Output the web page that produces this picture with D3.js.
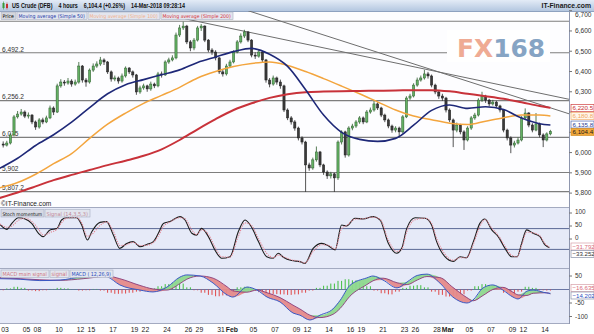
<!DOCTYPE html>
<html><head><meta charset="utf-8">
<script src="https://cdn.jsdelivr.net/npm/d3@7"></script>
<style>
html,body{margin:0;padding:0;background:#fff;overflow:hidden}
svg{display:block;font-family:"Liberation Sans",Arial,sans-serif}
</style></head><body>
<svg id="c" width="594" height="334"></svg>
<script>
// ---------------- DATA ----------------
const startBar = 2; // index of first 4-hour bar
const opens = [6042,6037,6047,6087,6176,6190,6200,6180,6185,6151,
6126,6161,6151,6171,6220,6200,6329,6348,6343,6353,
6338,6348,6427,6358,6348,6407,6427,6437,6457,6447,
6398,6363,6368,6353,6378,6417,6398,6383,6299,6319,
6329,6314,6338,6329,6388,6383,6447,6457,6467,6580,
6615,6624,6546,6516,6555,6615,6624,6555,6506,6496,
6467,6398,6388,6427,6447,6496,6546,6575,6595,6555,
6481,6476,6496,6457,6358,6338,6368,6348,6329,6210,
6171,6151,6121,6072,6052,5939,5924,5964,6003,5939,
5904,5885,5895,5875,6052,6102,5988,6121,6131,6151,
6171,6151,6200,6210,6240,6220,6185,6161,6131,6111,
6121,6102,6176,6269,6279,6333,6358,6368,6388,6378,
6333,6299,6279,6269,6210,6161,6111,6136,6102,6062,
6121,6171,6185,6259,6279,6259,6240,6249,6230,6210,
6111,6072,6037,6047,6062,6171,6195,6136,6111,6141,
6087,6062,6092];
const highs = [6055,6058,6095,6185,6205,6215,6208,6198,6190,6158,
6170,6172,6182,6232,6228,6340,6362,6358,6368,6362,
6360,6447,6432,6368,6415,6440,6450,6472,6465,6452,
6405,6380,6375,6390,6425,6422,6405,6388,6330,6340,
6335,6350,6345,6398,6400,6455,6468,6480,6592,6630,
6646,6630,6555,6565,6625,6634,6628,6560,6515,6505,
6472,6410,6438,6458,6505,6555,6588,6606,6600,6560,
6495,6508,6502,6462,6368,6380,6375,6360,6335,6218,
6180,6160,6128,6080,6058,5950,5975,6030,6008,5945,
5912,5905,5900,6060,6110,6108,6130,6142,6160,6180,
6178,6210,6222,6258,6248,6226,6192,6168,6138,6130,
6128,6185,6278,6290,6342,6370,6380,6408,6398,6385,
6340,6305,6290,6275,6218,6168,6148,6142,6110,6130,
6180,6196,6268,6300,6285,6265,6260,6255,6236,6215,
6118,6080,6058,6075,6180,6218,6200,6145,6195,6148,
6095,6100,6112];
const lows = [6025,6030,6040,6080,6168,6182,6170,6168,6140,6112,
6118,6140,6145,6165,6185,6195,6320,6330,6335,6325,
6330,6340,6345,6325,6340,6398,6418,6428,6432,6388,
6350,6352,6340,6345,6370,6388,6370,6285,6290,6310,
6300,6305,6318,6322,6370,6378,6438,6450,6460,6570,
6605,6535,6500,6505,6548,6600,6545,6495,6482,6455,
6388,6375,6380,6418,6440,6490,6538,6565,6545,6470,
6462,6468,6445,6345,6322,6330,6335,6315,6200,6160,
6138,6108,6060,6040,5806,5910,5915,5955,5928,5890,
5870,5872,5806,5865,6040,5975,5980,6110,6122,6142,
6140,6145,6192,6202,6210,6175,6150,6120,6098,6100,
6075,6095,6170,6260,6272,6325,6350,6360,6365,6322,
6288,6265,6255,6198,6150,6027,6100,6090,6013,6055,
6112,6162,6178,6250,6245,6228,6232,6220,6198,6100,
6060,5997,6025,6040,6055,6160,6125,6100,6105,6075,
6027,6055,6085];
const closes = [6037,6047,6087,6176,6190,6200,6180,6185,6151,6126,
6161,6151,6171,6220,6200,6329,6348,6343,6353,6338,
6348,6427,6358,6348,6407,6427,6437,6457,6447,6398,
6363,6368,6353,6378,6417,6398,6383,6299,6319,6329,
6314,6338,6329,6388,6383,6447,6457,6467,6580,6615,
6624,6546,6516,6555,6615,6624,6555,6506,6496,6467,
6398,6388,6427,6447,6496,6546,6575,6595,6555,6481,
6476,6496,6457,6358,6338,6368,6348,6329,6210,6171,
6151,6121,6072,6052,5939,5924,5964,6003,5939,5904,
5885,5895,5875,6052,6102,5988,6121,6131,6151,6171,
6151,6200,6210,6240,6220,6185,6161,6131,6111,6121,
6102,6176,6269,6279,6333,6358,6368,6388,6378,6333,
6299,6279,6269,6210,6161,6111,6136,6102,6062,6121,
6171,6185,6259,6279,6259,6240,6249,6230,6210,6111,
6072,6037,6047,6062,6171,6195,6136,6111,6141,6087,
6062,6092,6104.4];

// moving averages sampled at bar indices
const maBars = [1,6,11,16,21,26,31,36,41,46,51,56,61,66,71,76,81,86,91,96,101,106,111,116,121,126,131,136,141,146,151,154];
const ma50  = [5922,5972,6035,6088,6150,6222,6290,6335,6360,6384,6408,6445,6472,6498,6514,6485,6425,6310,6185,6100,6065,6055,6070,6135,6208,6235,6218,6226,6212,6170,6142,6135.8];
const ma100 = [5826,5852,5893,5945,5995,6070,6140,6195,6243,6282,6322,6368,6400,6425,6440,6447,6430,6400,6365,6328,6290,6250,6210,6180,6162,6145,6138,6155,6172,6185,6185,6180.8];
const ma200 = [5776,5803,5833,5864,5890,5914,5938,5960,5984,6016,6062,6115,6165,6210,6243,6270,6288,6298,6301,6303,6304,6305,6306,6308,6308,6302,6290,6278,6265,6248,6230,6220.5];

// horizontal levels and trend lines
const levels = [6648, 6492.2, 6256.2, 6075, 5902, 5807.2];
const levelLabels = ["", "6,492.2", "6,256.2", "6,075", "5,902", "5,807.2"];
const trendBar0 = [66, 52.5], trendVal0 = [6723, 6660];
const trendBar1 = [159.4, 159.4], trendVal1 = [6190, 6262];

const priceTicks = [6700,6600,6500,6400,6300,6200,6100,6000,5900,5800];

// stochastic momentum
const stochBars = [1.1,3,4.4,6.2,8.1,9.9,11.8,13.1,15,16.9,18.2,19.6,22.4,23.8,25.4,26.6,28.9,30.7,32.6,34.4,36.3,38.1,40,41.9,43.7,45.1,46.5,48.3,51.1,52.5,54.4,55.7,57.1,59,60.8,62.7,65,67.3,69.2,71,72.9,75.2,77,78.4,79.8,82.1,84.4,85.8,88.1,90.5,92.3,94.2,96,97.4,99.7,102,104.8,106.7,109,111.3,112.7,114.1,116.4,119.2,121,122.4,124.7,127,128.9,130.7,132.6,134.4,135.8,137.7,139.5,141.4,143.2,144.8,146,147.4,149.2,151.1,152.5,153.7];
const stochK = [56,37,60,82,77,60,22,9,35,40,73,82,82,54,-4,28,64,67,15,-36,-17,-10,-30,-21,-10,22,60,67,86,73,22,15,41,9,-42,-74,-68,28,73,45,-10,-68,-74,-55,-70,-83,-87,-94,-36,-17,-26,-42,54,50,80,77,86,73,-17,-55,-36,41,82,80,54,-10,-68,-86,-68,-72,-10,60,77,35,9,-36,-68,-68,-17,35,22,9,-23,-33.252];
const stochD = [58,45,50,72,80,68,38,15,25,38,62,80,83,62,10,18,52,66,30,-25,-22,-13,-25,-24,-14,12,48,65,82,78,35,17,35,18,-30,-68,-70,10,62,52,2,-55,-72,-62,-68,-80,-86,-92,-48,-22,-24,-38,40,52,76,78,84,76,-5,-48,-40,28,74,80,60,2,-58,-82,-72,-72,-20,48,74,42,14,-28,-62,-68,-25,26,24,12,-18,-31.792];
const stochLevels = [40, -40];
const stochTicks = [100, 50, 0];

// MACD
const macdBars = [1.1,6.7,12.2,17.8,24.2,28.9,30.8,34.4,40,43.6,47.5,51.1,53,56.7,60.3,64.2,65.8,69.7,72.5,75.3,78.9,82.5,84.4,87.2,90,93.6,95.6,98.3,103,104.7,107.5,111.4,114.2,117,119.7,123.3,126.9,130.8,132.5,135.3,138,140.8,143.6,145,147.5,149.2,153,154];
const macdMain = [40,38,33,35,48,52,48,17,-2,-9,9,46,54,50,24,-20,-28,9,-2,-28,-46,-87,-95,-113,-95,-72,-40,15,43,50,35,6,28,52,57,24,-28,-50,-39,6,17,-2,-28,-35,-6,-2,-13,-14.202];
const macdSignal = [44,40,36,34,40,47,50,40,15,2,-2,22,38,50,42,10,-5,-10,-2,-12,-30,-58,-72,-95,-104,-92,-70,-25,18,32,42,25,18,35,48,44,8,-30,-42,-22,0,8,-10,-20,-22,-14,-12,-16.635];
// histogram, one value per pair of bars (bars 1-2, 3-4, ...)
const macdHist = [-3,4,10,6,-4,-6,-3,2,6,4,1,-4,-3,2,-4,-12,-16,-15,-12,-8,-2,4,12,20,25,22,8,-3,-12,-20,-25,-22,-8,8,10,-4,-10,-14,-17,-18,-20,-18,-12,-4,6,14,22,32,38,34,24,12,-4,-14,-18,-8,6,14,16,8,-8,-20,-26,-26,-18,-4,12,20,16,2,-12,-20,-8,10,6,-3,-4];
const macdTicks = [50, -50, -100];

// time axis: trading-day index and label
const dayIdx = [1,3,4,6,8,9,11,13,14,16,18,19,21,22,24,26,28,29,31,33,34,36,38,39,41,42,44,46,48,49,51];
const dayLabels = ["03","05","08","10","12","15","17","19","22","24","26","29","31","Feb","05","07","09","12","14","16","19","21","23","26","28","Mar","05","07","09","12","14"];

// ---------------- CHART ----------------
const svg = d3.select("#c");
const AX = 569;
const xs = d3.scaleLinear().domain([0,160]).range([-4,572]);
const yP = d3.scaleLinear().domain([5800,6700]).range([193.1,10.7]);
const yK = d3.scaleLinear().domain([-100,100]).range([265,213]);
const yM = d3.scaleLinear().domain([-100,50]).range([316.5,276]);
const barsPerDay = 3;

const defs = svg.append("defs");
const gr = defs.append("linearGradient").attr("id","tg").attr("x1",0).attr("x2",0).attr("y1",0).attr("y2",1);
gr.append("stop").attr("offset","0").attr("stop-color","#e3ebf6");
gr.append("stop").attr("offset","1").attr("stop-color","#b4c7e0");
function clip(id,x,y,w,h){defs.append("clipPath").attr("id",id).append("rect").attr("x",x).attr("y",y).attr("width",w).attr("height",h);}
clip("cm",0,11,AX,196); clip("cs",0,208,AX,60); clip("cd",0,269,AX,55);

// backgrounds
svg.append("rect").attr("width",594).attr("height",334).attr("fill","#ffffff");
svg.append("rect").attr("x",0).attr("y",0).attr("width",594).attr("height",11).attr("fill","url(#tg)");
svg.append("line").attr("x1",0).attr("x2",594).attr("y1",11.5).attr("y2",11.5).attr("stroke","#8ea2c0");
svg.append("rect").attr("x",0).attr("y",12).attr("width",AX).attr("height",195).attr("fill","#fdfdff");
svg.append("rect").attr("x",0).attr("y",208).attr("width",AX).attr("height",60).attr("fill","#e6eaf8");
svg.append("rect").attr("x",0).attr("y",269).attr("width",AX).attr("height",55).attr("fill","#e6eaf8");
[207.5,268.5,323.5].forEach(y=>svg.append("line").attr("x1",0).attr("x2",AX).attr("y1",y).attr("y2",y).attr("stroke","#a3aac0"));
svg.append("line").attr("x1",AX+0.5).attr("x2",AX+0.5).attr("y1",12).attr("y2",324).attr("stroke","#8e96ae");

// ---- main panel
const gm = svg.append("g").attr("clip-path","url(#cm)");
levels.forEach((v,i)=>{
  gm.append("line").attr("x1",0).attr("x2",AX).attr("y1",yP(v)).attr("y2",yP(v)).attr("stroke","#7e7e7e").attr("stroke-width",1.1);
  if(levelLabels[i]) gm.append("text").attr("x",2).attr("y",yP(v)-1.2).attr("font-size",6.6).attr("fill","#333").text(levelLabels[i]);
});
trendBar0.forEach((b,i)=>{
  gm.append("line").attr("x1",xs(b)).attr("y1",yP(trendVal0[i])).attr("x2",xs(trendBar1[i])).attr("y2",yP(trendVal1[i])).attr("stroke","#6e6e6e").attr("stroke-width",1);
});
// watermark
gm.append("rect").attr("x",447).attr("y",30).attr("width",103).attr("height",32).attr("fill","#ffffff");
const wm = gm.append("text").attr("x",457).attr("y",57).attr("font-size",25).attr("font-weight","bold").attr("font-family","'DejaVu Sans',Verdana,sans-serif").attr("textLength",88).attr("lengthAdjust","spacingAndGlyphs");
wm.append("tspan").attr("fill","#efab94").text("FX");
wm.append("tspan").attr("fill","#86a4c4").text("168");

// candles
const gc = gm.append("g");
closes.forEach((c,i)=>{
  const t=i+startBar, x=xs(t), o=opens[i], up=c>=o;
  gc.append("line").attr("x1",x).attr("x2",x).attr("y1",yP(highs[i])).attr("y2",yP(lows[i])).attr("stroke",up?"#2d5c2d":"#2a2a2a").attr("stroke-width",0.8);
  const y0=yP(Math.max(o,c)), h=Math.max(0.8,Math.abs(yP(o)-yP(c)));
  gc.append("rect").attr("x",x-1.1).attr("y",y0).attr("width",2.2).attr("height",h)
    .attr("fill",up?"#63b063":"#3a3a3a").attr("stroke",up?"#2d5c2d":"#1e1e1e").attr("stroke-width",0.5);
});
// moving averages
const maLine = arr => d3.line().curve(d3.curveMonotoneX).x((d,i)=>xs(maBars[i])).y(d=>yP(d))(arr);
gm.append("path").attr("d",maLine(ma100)).attr("fill","none").attr("stroke","#f3a53e").attr("stroke-width",1.5);
gm.append("path").attr("d",maLine(ma200)).attr("fill","none").attr("stroke","#c8323a").attr("stroke-width",2);
gm.append("path").attr("d",maLine(ma50)).attr("fill","none").attr("stroke","#1e2878").attr("stroke-width",1.6);

// legend: boxes of given widths; text is shrunk to fit its box
function legend(items, x0, y0, fs){
  let x=x0;
  items.forEach(it=>{
    const g=svg.append("g");
    const w=it.len+3;
    g.append("rect").attr("x",x).attr("y",y0).attr("height",7.5).attr("width",w).attr("fill",it.bg||"#e2e5ee").attr("stroke","#a9afc2").attr("stroke-width",0.6);
    const t=g.append("text").attr("x",x+1.5).attr("y",y0+6).attr("font-size",fs)
      .attr("font-family","'Liberation Sans Narrow','DejaVu Sans Condensed','Liberation Sans',Arial,sans-serif")
      .attr("fill",it.c).text(it.t);
    const nat=t.node().getComputedTextLength();
    if(nat>it.len-0.5) t.attr("font-size",fs*(it.len-0.5)/nat);
    x+=w+1;
  });
}
legend([{t:"Price",c:"#000",bg:"#d4d6dc",len:12},{t:"Moving average (Simple 50)",c:"#2338a8",len:67},{t:"Moving average (Simple 100)",c:"#f2b08a",len:69},{t:"Moving average (Simple 200)",c:"#d8323a",len:69}],1,12,6.8);

// title bar
svg.append("text").attr("x",12).attr("y",8.3).attr("font-size",7.4).attr("font-weight","bold").attr("fill","#111")
  .attr("textLength",173).attr("lengthAdjust","spacingAndGlyphs").attr("xml:space","preserve")
  .text("US Crude (DFB)    4 hours    6,104.4 (+0.26%)    14-Mar-2018 09:28:14");
svg.append("text").attr("x",591).attr("y",8.3).attr("text-anchor","end").attr("font-size",6.8).attr("font-weight","bold").attr("fill","#1a1a1a").text("IT-Finance.com");
svg.append("rect").attr("x",2.5).attr("y",3).attr("width",2).attr("height",5).attr("fill","#3a9a3a");
svg.append("line").attr("x1",3.5).attr("x2",3.5).attr("y1",1.5).attr("y2",9.5).attr("stroke","#3a9a3a").attr("stroke-width",0.6);
svg.append("rect").attr("x",6).attr("y",4).attr("width",2).attr("height",4).attr("fill","#c83030");
svg.append("line").attr("x1",7).attr("x2",7).attr("y1",2.5).attr("y2",9.5).attr("stroke","#c83030").attr("stroke-width",0.6);

// copyright
svg.append("text").attr("x",1).attr("y",205.5).attr("font-size",6.6).attr("fill","#222").text("\u00A9IT-Finance.com");

// value boxes on right
const f1=d3.format(",.1f"), f3=d3.format(".3f");
function valBox(y,txt,stroke,fill,col){
  svg.append("rect").attr("x",571).attr("y",y-3.5).attr("width",23).attr("height",7).attr("fill",fill).attr("stroke",stroke).attr("stroke-width",0.7);
  svg.append("text").attr("x",572.5).attr("y",y).attr("dy","0.35em").attr("font-size",6.2).attr("fill",col).text(txt);
}
const boxYs = [yP(ma200[ma200.length-1]), yP(ma100[ma100.length-1]), yP(ma50[ma50.length-1])-0.5, yP(closes[closes.length-1])+0.5];

// right price axis (labels hidden behind value boxes are not drawn)
priceTicks.forEach(v=>{
  const y=yP(v);
  svg.append("line").attr("x1",AX).attr("x2",AX+3).attr("y1",y).attr("y2",y).attr("stroke","#777");
  if(boxYs.some(b=>Math.abs(b-y)<6)) return;
  svg.append("text").attr("x",575).attr("y",Math.max(15,y)).attr("dy","0.35em").attr("font-size",6.6).attr("fill","#333").text(d3.format(",")(v));
});
valBox(boxYs[0],f1(ma200[ma200.length-1]),"#d04040","#ffffff","#c83030");
valBox(boxYs[1],f1(ma100[ma100.length-1]),"#f0b070","#fff6ec","#f0a860");
valBox(boxYs[2],f1(ma50[ma50.length-1]),"#5068b0","#ffffff","#2a3a90");
valBox(boxYs[3],f1(closes[closes.length-1]),"#d08a20","#f2a83a","#1a1a1a");

// ---- stochastic panel
const gs = svg.append("g").attr("clip-path","url(#cs)");
stochLevels.forEach(v=>gs.append("line").attr("x1",0).attr("x2",AX).attr("y1",yK(v)).attr("y2",yK(v)).attr("stroke","#5a6894").attr("stroke-width",1));
const stLine = arr => d3.line().curve(d3.curveMonotoneX).x((d,i)=>xs(stochBars[i])).y(d=>yK(d))(arr);
gs.append("path").attr("d",stLine(stochK)).attr("fill","none").attr("stroke","#1c1c1c").attr("stroke-width",1.1);
gs.append("path").attr("d",stLine(stochD)).attr("fill","none").attr("stroke","#e38391").attr("stroke-width",1.1).attr("stroke-dasharray","1.2,1.2");
legend([{t:"Stoch momentum",c:"#111",bg:"#d6d9e4",len:40},{t:"Signal (14,3,5,3)",c:"#c08898",len:42}],1,209.5,6.6);
stochTicks.forEach(v=>{
  svg.append("line").attr("x1",AX).attr("x2",AX+3).attr("y1",yK(v)).attr("y2",yK(v)).attr("stroke","#777");
  svg.append("text").attr("x",575).attr("y",yK(v)-1).attr("dy","0.35em").attr("font-size",6.4).attr("fill","#333").text(v);
});
function boxAt(y,txt,col,stroke){
  svg.append("rect").attr("x",571).attr("y",y-3.5).attr("width",23).attr("height",7).attr("fill","#ffffff").attr("stroke",stroke).attr("stroke-width",0.7);
  svg.append("text").attr("x",572.5).attr("y",y).attr("dy","0.35em").attr("font-size",6.1).attr("fill",col).text(txt);
}
boxAt(246.5,f3(stochD[stochD.length-1]),"#d86a7a","#d8a0a8");
boxAt(254,f3(stochK[stochK.length-1]),"#333","#8890a8");

// ---- MACD panel
const gd = svg.append("g").attr("clip-path","url(#cd)");
gd.append("line").attr("x1",0).attr("x2",AX).attr("y1",yM(0)).attr("y2",yM(0)).attr("stroke","#6a76a4").attr("stroke-width",1);
for(let t=1;t<=154;t++){
  const v=macdHist[Math.floor((t-1)/2)];
  gd.append("line").attr("x1",xs(t)).attr("x2",xs(t)).attr("y1",yM(0)).attr("y2",yM(v)).attr("stroke",v>=0?"#3fbf3f":"#e04848").attr("stroke-width",1);
}
const bandUp = d3.area().curve(d3.curveMonotoneX).x((d,i)=>xs(macdBars[i])).y0((d,i)=>yM(macdSignal[i])).y1((d,i)=>yM(Math.max(d,macdSignal[i])));
const bandDn = d3.area().curve(d3.curveMonotoneX).x((d,i)=>xs(macdBars[i])).y0((d,i)=>yM(macdSignal[i])).y1((d,i)=>yM(Math.min(d,macdSignal[i])));
gd.append("path").attr("d",bandUp(macdMain)).attr("fill","#8ed88e").attr("opacity",0.95);
gd.append("path").attr("d",bandDn(macdMain)).attr("fill","#e58a8a").attr("opacity",0.95);
const mdLine = arr => d3.line().curve(d3.curveMonotoneX).x((d,i)=>xs(macdBars[i])).y(d=>yM(d))(arr);
gd.append("path").attr("d",mdLine(macdSignal)).attr("fill","none").attr("stroke","#8a3a78").attr("stroke-width",0.9);
gd.append("path").attr("d",mdLine(macdMain)).attr("fill","none").attr("stroke","#3a58c4").attr("stroke-width",1);
legend([{t:"MACD main signal",c:"#d07a86",len:45},{t:"signal",c:"#d07a86",len:16},{t:"MACD ( 12,26,9)",c:"#2b4ec0",len:40}],1,270,6.6);
macdTicks.forEach(v=>{
  svg.append("line").attr("x1",AX).attr("x2",AX+3).attr("y1",yM(v)).attr("y2",yM(v)).attr("stroke","#777");
  svg.append("text").attr("x",575).attr("y",yM(v)).attr("dy","0.35em").attr("font-size",6.4).attr("fill","#333").text(v);
});
boxAt(288,f3(macdSignal[macdSignal.length-1]),"#d86a7a","#d8a0a8");
boxAt(295.5,f3(macdMain[macdMain.length-1]),"#2b4ec0","#8890a8");

// ---- time axis
dayIdx.forEach((d,i)=>{
  const x=xs(d*barsPerDay-0.5);
  const bold = isNaN(+dayLabels[i]);
  svg.append("text").attr("x",x).attr("y",331.5).attr("text-anchor","middle").attr("font-size",6.8)
    .attr("font-weight",bold?"bold":"normal").attr("fill","#222").text(dayLabels[i]);
});
</script>
</body></html>
